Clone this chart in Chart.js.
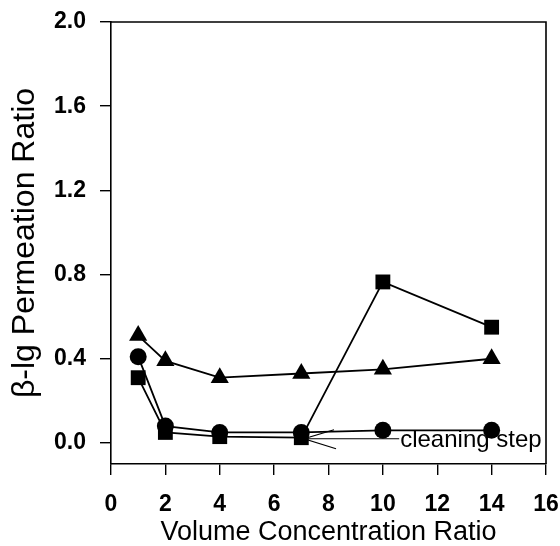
<!DOCTYPE html>
<html>
<head>
<meta charset="utf-8">
<script src="https://cdn.jsdelivr.net/npm/chart.js@4/dist/chart.umd.min.js"></script>
<style>
  html, body { margin: 0; padding: 0; background: #fff; }
  #wrap { width: 560px; height: 546px; }
</style>
</head>
<body>
<div id="wrap"><canvas id="chart"></canvas></div>
<script>
// data
const vcr = [1, 2, 4, 7, 10, 14];
const triangleSeries = [0.51, 0.39, 0.31, 0.33, 0.35, 0.40];
const circleSeries = [0.41, 0.08, 0.05, 0.05, 0.06, 0.06];
const squareSeries = [0.31, 0.05, 0.03, 0.025, 0.765, 0.55];
const yTicks = [0.0, 0.4, 0.8, 1.2, 1.6, 2.0];
const xTicks = [0, 2, 4, 6, 8, 10, 12, 14, 16];

const FONT = "'Liberation Sans', Arial, sans-serif";

const toPoints = (ys) => vcr.map((x, i) => ({ x: x, y: ys[i] }));

const series = (label, ys, style, radius) => ({
  label: label,
  data: toPoints(ys),
  borderColor: "#000",
  backgroundColor: "#000",
  borderWidth: 1.8,
  pointStyle: style,
  pointRadius: radius,
  pointHoverRadius: radius,
  pointBorderWidth: 0,
  tension: 0,
});

// closed box + "cleaning step" arrow
const extras = {
  id: "extras",
  afterDraw(chart) {
    const { ctx, chartArea: a, scales } = chart;
    ctx.save();
    ctx.strokeStyle = "#000";
    ctx.lineWidth = 1.6;
    ctx.beginPath();
    ctx.moveTo(a.left, a.top);
    ctx.lineTo(a.right, a.top);
    ctx.lineTo(a.right, a.bottom);
    ctx.stroke();

    const tipX = scales.x.getPixelForValue(7.1);
    const tipY = scales.y.getPixelForValue(0.02);
    const textX = scales.x.getPixelForValue(10.6);
    ctx.lineWidth = 1.2;
    ctx.beginPath();
    ctx.moveTo(textX, tipY);
    ctx.lineTo(tipX, tipY);
    ctx.moveTo(tipX + 30, tipY - 9);
    ctx.lineTo(tipX, tipY);
    ctx.lineTo(tipX + 32, tipY + 10);
    ctx.stroke();

    ctx.fillStyle = "#000";
    ctx.font = "24px " + FONT;
    ctx.textBaseline = "middle";
    ctx.textAlign = "left";
    ctx.fillText("cleaning step", textX + 1, tipY + 2);
    ctx.restore();
  },
};

new Chart(document.getElementById("chart"), {
  type: "line",
  data: {
    datasets: [
      series("triangles", triangleSeries, "triangle", 10.5),
      series("circles", circleSeries, "circle", 8.5),
      series("squares", squareSeries, "rect", 10.5),
    ],
  },
  options: {
    responsive: true,
    maintainAspectRatio: false,
    animation: false,
    layout: { padding: { top: 22, right: 14, left: 0, bottom: 0 } },
    plugins: {
      legend: { display: false },
      tooltip: { enabled: false },
    },
    scales: {
      x: {
        type: "linear",
        min: 0,
        max: 16,
        afterBuildTicks: (s) => { s.ticks = xTicks.map((v) => ({ value: v })); },
        afterFit: (s) => {
          s.height = 82;
          s.paddingLeft = 0;
          s.paddingRight = 0;
        },
        border: { display: true, color: "#000", width: 1.6 },
        grid: { drawOnChartArea: false, drawTicks: true, tickLength: 11, color: "#000", lineWidth: 1.4 },
        ticks: {
          color: "#000",
          padding: 16,
          maxRotation: 0,
          font: { family: FONT, size: 23, weight: "bold" },
        },
        title: {
          display: true,
          text: "Volume Concentration Ratio",
          color: "#000",
          padding: { top: 0, bottom: -3 },
          font: { family: FONT, size: 27 },
        },
      },
      y: {
        type: "linear",
        min: -0.1,
        max: 2.0,
        afterBuildTicks: (s) => { s.ticks = yTicks.map((v) => ({ value: v })); },
        afterFit: (s) => {
          s.width = 111;
          s.paddingTop = 0;
          s.paddingBottom = 0;
        },
        border: { display: true, color: "#000", width: 1.6 },
        grid: { drawOnChartArea: false, drawTicks: true, tickLength: 11, color: "#000", lineWidth: 1.4 },
        ticks: {
          color: "#000",
          padding: 14,
          callback: (v) => v.toFixed(1),
          font: { family: FONT, size: 23, weight: "bold" },
        },
        title: {
          display: true,
          text: "β-lg Permeation Ratio",
          color: "#000",
          padding: { top: 6, bottom: 0 },
          font: { family: FONT, size: 32 },
        },
      },
    },
  },
  plugins: [extras],
});
</script>
</body>
</html>
